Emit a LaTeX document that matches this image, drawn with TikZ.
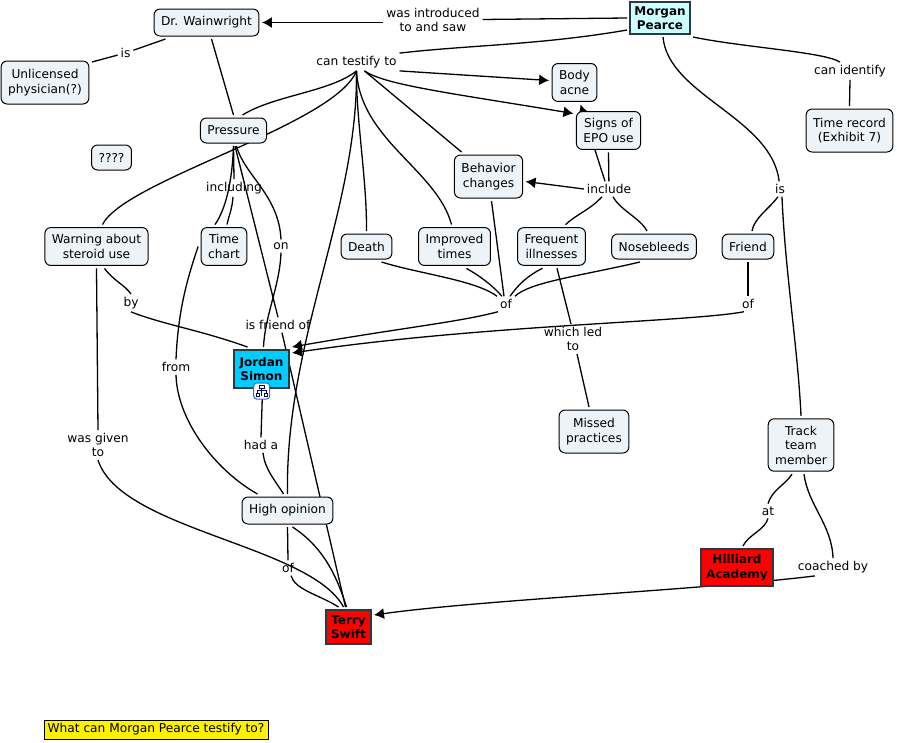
\documentclass[tikz,border=0pt]{standalone}
\usepackage{fontspec}
\setmainfont{DejaVu Sans}
\usetikzlibrary{arrows.meta, backgrounds}

\definecolor{paleblue}{HTML}{EDF3F6}
\definecolor{palecyan}{HTML}{CCFFFF}
\definecolor{skyblue}{HTML}{00CCFF}
\definecolor{edgegrey}{HTML}{2A3A40}
\definecolor{iconblue}{HTML}{2B6FD0}

\begin{document}
\begin{tikzpicture}[x=1pt, y=-1pt, line width=1pt,
    >={Latex[length=10pt,width=11pt]},
    every edge/.append style={line width=1.3pt},
    concept/.style={draw=black, fill=paleblue, rounded corners=6pt, align=center,
        inner xsep=7pt, inner ysep=7pt, minimum height=25pt, outer sep=3pt,
        font=\fontsize{12.2}{14.5}\selectfont},
    tall/.style={minimum height=43pt},
    hot/.style={concept, draw=edgegrey, line width=2pt, rounded corners=0pt, inner sep=0pt,
        font=\fontsize{12}{14.5}\selectfont\bfseries},
    word/.style={inner sep=1pt, outer sep=2pt, align=center,
        font=\fontsize{12.2}{14.5}\selectfont},
    via/.style 2 args={to path={.. controls #1 and #2 .. (\tikztotarget)}}]
    \useasboundingbox (0,0) rectangle (897,742);

    \node[hot, fill=palecyan, minimum width=60pt, minimum height=32pt] (morgan) at (660,18) {Morgan\\Pearce};
    \node[concept, minimum height=27pt] (wainwright) at (206.5,22.5) {Dr. Wainwright};
    \node[concept, tall] (unlicensed) at (45,82.5) {Unlicensed\\physician(?)};
    \node[concept] (pressure) at (233.5,130.5) {Pressure};
    \node[concept] (unknown) at (111.5,157.5) {????};
    \node[concept] (warning) at (96.5,246.5) {Warning about\\steroid use};
    \node[concept] (timechart) at (224,246.5) {Time\\chart};
    \node[concept] (death) at (366.5,246.5) {Death};
    \node[concept] (improved) at (454.5,246.5) {Improved\\times};
    \node[concept, tall] (behavior) at (488.5,176.5) {Behavior\\changes};
    \node[concept] (frequent) at (551.5,246.5) {Frequent\\illnesses};
    \node[concept] (nosebleeds) at (654,246.5) {Nosebleeds};
    \node[concept] (friend) at (748,246.5) {Friend};
    \node[concept] (acne) at (574.5,82.5) {Body\\acne};
    \node[concept] (signs) at (608.5,130.5) {Signs of\\EPO use};
    \node[concept, tall] (timerecord) at (849.5,130.5) {Time record\\(Exhibit 7)};
    \node[concept] (track) at (801,445) {Track\\team\\member};
    \node[concept, tall] (missed) at (594,431.5) {Missed\\practices};
    \node[concept, minimum height=27pt] (highopinion) at (287.5,510.5) {High opinion};
    \node[hot, fill=skyblue, minimum width=55pt, minimum height=38pt] (jordan) at (261.5,369) {Jordan\\Simon};
    \node[hot, fill=red, minimum width=45pt, minimum height=34pt] (terry) at (348.5,627) {Terry\\Swift};
    \node[hot, fill=red, minimum width=72pt, minimum height=37pt] (hilliard) at (737,567.5) {Hilliard\\Academy};

    \node[word] (introduced) at (433,20) {was introduced\\to and saw};
    \node[word] (isdoctor) at (125.5,53) {is};
    \node[word] (testify) at (356.5,62) {can testify to};
    \node[word] (including) at (234,188) {including};
    \node[word] (on) at (281,246) {on};
    \node[word] (include) at (609,189) {include};
    \node[word] (isfriend) at (780,189) {is};
    \node[word] (identify) at (850,71) {can identify};
    \node[word] (ofsigns) at (506,304) {of};
    \node[word] (offriend) at (748,304) {of};
    \node[word] (by) at (131,303) {by};
    \node[word] (from) at (176,367) {from};
    \node[word] (friendof) at (278,325) {is friend of};
    \node[word] (ledto) at (573,339) {which led\\to};
    \node[word] (hada) at (261,445) {had a};
    \node[word] (given) at (98,445) {was given\\to};
    \node[word] (ofhigh) at (288,568) {of};
    \node[word] (at) at (768,511) {at};
    \node[word] (coached) at (833,567) {coached by};

    \node[draw=black, fill=yellow, inner sep=0pt, minimum width=224pt, minimum height=19pt,
        font=\fontsize{12.2}{14.5}\selectfont] (question) at (156,729.5) {What can Morgan Pearce testify to?};

    \node[draw=iconblue, fill=white, rounded corners=3pt, minimum size=16pt, inner sep=0pt] (icon) at (261.7,391) {};
    \draw[line width=0.7pt, draw=black!60!blue, fill=white]
        (259.5,385) rectangle (264,388)
        (256,393.5) rectangle (259,396.5)
        (264.5,393.5) rectangle (267.5,396.5)
        (257.5,393.5) -- (257.5,390.5) -- (266,390.5) -- (266,393.5)
        (261.7,388) -- (261.7,396);

    \begin{scope}[on background layer]
    \path
        (morgan.west) edge (introduced)
        (isdoctor) edge ([yshift=-4pt]unlicensed.north east)
        ([xshift=-41pt]wainwright.south) edge (isdoctor)
        ([xshift=5pt]wainwright.south) edge (pressure.north)
        (morgan.200) edge[via={(540,45)}{(470,45)}] (testify.north east)
        (testify.south) edge[via={(330,92)}{(275,95)}] ([xshift=9pt]pressure.north)
        (testify.south) edge[via={(335,125)}{(125,180)}] ([xshift=6pt]warning.north)
        (testify.south) edge[via={(358,210)}{(285,340)}] (highopinion.north)
        (testify.south) edge[via={(356,120)}{(367,180)}] (death.north)
        (testify.south) edge[via={(360,140)}{(437,170)}] ([xshift=-3pt]improved.north)
        ([xshift=8pt]testify.south) edge ([xshift=-27pt]behavior.north)
        (signs.south) edge (include)
        (include) edge[via={(590,210)}{(575,215)}] ([xshift=14pt]frequent.north)
        (include) edge[via={(620,210)}{(640,218)}] ([xshift=-7pt]nosebleeds.north)
        ([xshift=3pt]morgan.south) edge[via={(668,95)}{(772,118)}] (isfriend)
        ([xshift=-2pt]isfriend.south) edge[via={(770,208)}{(754,218)}] ([xshift=4pt]friend.north)
        ([xshift=2pt]isfriend.south) edge[via={(785,270)}{(798,350)}] (track.north)
        (morgan.south east) edge[via={(740,47)}{(825,52)}] ([xshift=-10pt]identify.north)
        (identify.south) edge (timerecord.north)
        ([xshift=3pt]behavior.south) edge ([xshift=-2pt]ofsigns.north)
        ([xshift=12pt]improved.south) edge[via={(480,276)}{(492,285)}] ([xshift=-4pt]ofsigns.north)
        ([xshift=-9pt]frequent.south) edge[via={(527,276)}{(518,285)}] ([xshift=4pt]ofsigns.north)
        ([xshift=-14pt]nosebleeds.south) edge[via={(580,276)}{(530,282)}] (ofsigns.north east)
        ([xshift=15pt]death.south) edge[via={(420,274)}{(475,280)}] (ofsigns.north west)
        (friend.south) edge (offriend)
        ([xshift=5.5pt]frequent.south) edge ([xshift=-2pt]ledto.north)
        ([xshift=4pt]ledto.south) edge ([xshift=-5pt]missed.north)
        ([xshift=8pt]warning.south) edge[via={(115,282)}{(125,285)}] (by.north)
        (by.south) edge[via={(165,325)}{(200,330)}] ([xshift=-14pt]jordan.north)
        (warning.south) edge (given.north)
        (given.south) edge[via={(120,530)}{(310,545)}] ([xshift=-5pt]terry.north)
        ([xshift=1.5pt]pressure.south) edge (friendof.north)
        ([xshift=4pt]friendof.south) edge ([xshift=-3pt]terry.north)
        (pressure.south) edge[via={(232,185)}{(225,210)}] ([xshift=-9pt]timechart.north)
        (pressure.south) edge (including.north)
        ([xshift=-1pt]including.south) edge[via={(232,210)}{(229,215)}] ([xshift=3pt]timechart.north)
        ([xshift=3pt]pressure.south) edge[via={(244,175)}{(279,195)}] (on.north)
        (on.south) edge[via={(280,285)}{(265,315)}] ([xshift=2pt]jordan.north)
        ([xshift=1pt]jordan.south) edge (hada.north)
        ([xshift=2pt]hada.south) edge[via={(265,470)}{(275,480)}] ([xshift=-4pt]highopinion.north)
        (timechart.west) edge[via={(185,285)}{(178,315)}] (from.north)
        (from.south) edge[via={(177,420)}{(215,470)}] ([xshift=-30pt]highopinion.north)
        (highopinion.south) edge (ofhigh.north)
        ([xshift=5pt]highopinion.south) edge[via={(320,545)}{(335,570)}] ([xshift=-2pt]terry.north)
        ([xshift=3pt]ofhigh.south) edge[via={(295,590)}{(320,595)}] ([xshift=-10pt]terry.north)
        ([xshift=-9pt]track.south) edge[via={(785,485)}{(772,490)}] (at.north)
        (at.south) edge[via={(765,530)}{(748,535)}] ([xshift=6pt]hilliard.north)
        ([xshift=3pt]track.south) edge[via={(808,505)}{(832,525)}] (coached.north);
    \path[->]
        ([yshift=-2.5pt]introduced.west) edge (wainwright.east)
        (testify.south east) edge ([yshift=2pt]acne.west)
        ([xshift=8pt]testify.south) edge[via={(385,85)}{(450,93)}] ([yshift=-5pt]signs.north west)
        (include.west) edge ([yshift=-5pt]behavior.east)
        ([xshift=-4pt]include.north) edge ([xshift=6pt]acne.south)
        ([xshift=-8pt]ofsigns.south) edge[via={(460,322)}{(400,328)}] (jordan.north east)
        ([xshift=-4pt]offriend.south) edge[via={(690,322)}{(480,325)}] ([yshift=-6pt]jordan.north east)
        ([xshift=-18pt]coached.south) edge[via={(700,590)}{(480,600)}] ([yshift=12pt]terry.east);
    \end{scope}
\end{tikzpicture}
\end{document}
